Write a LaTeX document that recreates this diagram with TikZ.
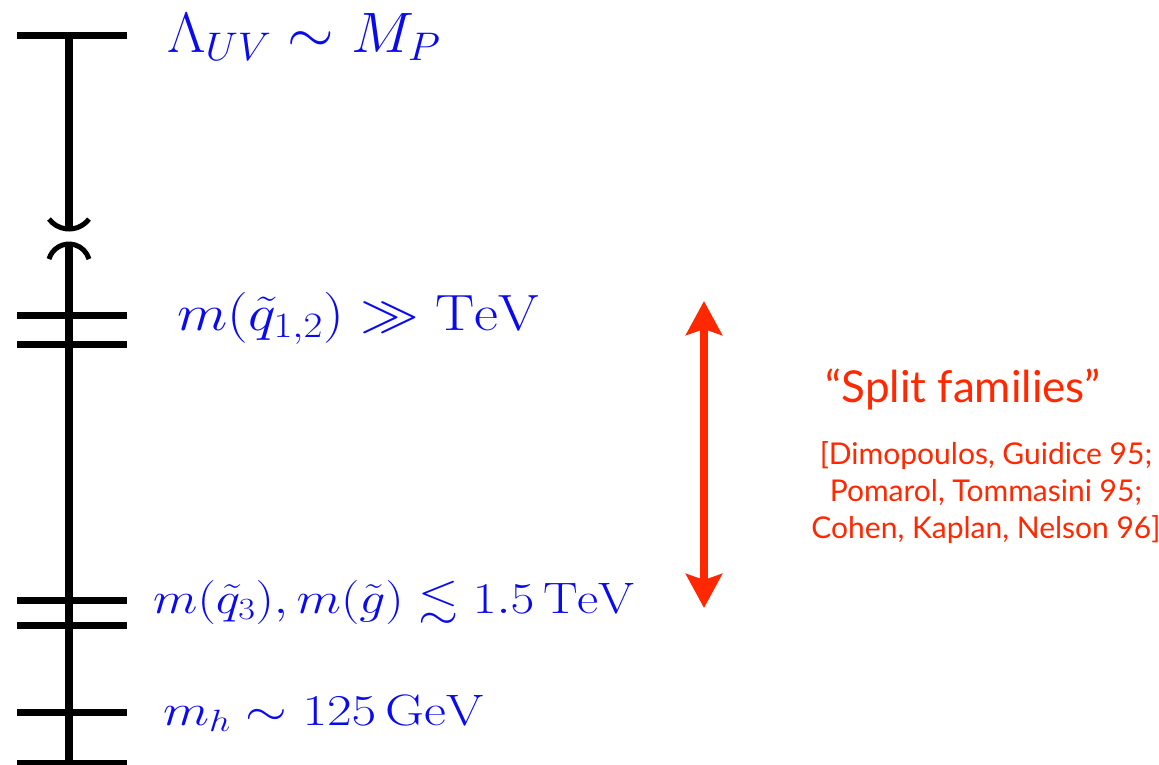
\RequirePackage{fix-cm}
\documentclass[tikz,border=0pt]{standalone}
\usepackage{amssymb}
\DeclareFontFamily{U}{msa}{}
\DeclareFontShape{U}{msa}{m}{n}{<->msam10}{}
\usepackage{fontspec}
\newfontfamily\redfont{Lato}
\usetikzlibrary{arrows.meta}
\definecolor{lblue}{RGB}{10,10,240}
\definecolor{sred}{RGB}{255,40,0}
\begin{document}
\begin{tikzpicture}[x=1pt,y=-1pt,
  axis/.style={line width=8pt,line cap=butt},
  tickmark/.style={line width=7pt,line cap=butt},
  brkarc/.style={line width=5pt,line cap=butt},
  lab/.style={anchor=base west,text=lblue,inner sep=0pt},
  redlab/.style={text=sred,inner sep=0pt,align=center}]
\useasboundingbox (0,0) rectangle (1159,764);
% levels
\coordinate (top) at (69,35);
\coordinate (b1) at (69,229);
\coordinate (b2) at (69,244);
\coordinate (bot) at (69,770);
\foreach \y/\n in {35/t0,315/t1,344/t2,600/t3,625/t4,712/t5,763/t6}{
  \coordinate (\n L) at (17,\y);
  \coordinate (\n R) at (127,\y);
  \draw[tickmark] (\n L) -- (\n R);
}
\draw[axis] (top) -- (b1);
\draw[axis] (b2) -- (bot);
% break marks
\coordinate (c1) at (69,204);
\coordinate (c2) at (69,264.8);
\draw[brkarc] (c1) ++(37:25) arc[start angle=37,end angle=143,radius=25];
\draw[brkarc] (c2) ++(196:20.8) arc[start angle=196,end angle=344,radius=20.8];
% labels
\node[lab,font=\fontsize{57}{60}\selectfont] (l0) at (167,52) {\scalebox{1.05}[1]{$\Lambda_{UV}\sim M_P$}};
\node[lab,font=\fontsize{51}{56}\selectfont] (l1) at (177,330) {\scalebox{1.15}[1]{$m(\tilde q_{1,2})\gg\mathrm{TeV}$}};
\node[lab,font=\fontsize{44}{50}\selectfont] (l2) at (153,613) {\scalebox{1.177}[1]{$m(\tilde q_3),m(\tilde g)\lesssim 1.5\,\mathrm{TeV}$}};
\node[lab,font=\fontsize{44}{50}\selectfont] (l3) at (163,725) {\scalebox{1.22}[1]{$m_h\sim 125\,\mathrm{GeV}$}};
% red arrow
\coordinate (ra) at (704,301);
\coordinate (rb) at (704,608);
\draw[sred,line width=8pt,{Stealth[length=34pt,width=36pt,inset=6pt]}-{Stealth[length=34pt,width=36pt,inset=6pt]}] (ra) -- (rb);
\node[redlab,anchor=base,font=\redfont\fontsize{44}{48}\selectfont] (sf) at (963,402) {“Split families”};
\node[redlab,anchor=north,font=\redfont\fontsize{30}{37}\selectfont] (cit) at (986,441) {[Dimopoulos, Guidice 95;\\Pomarol, Tommasini 95;\\Cohen, Kaplan, Nelson 96]};
\end{tikzpicture}
\end{document}
